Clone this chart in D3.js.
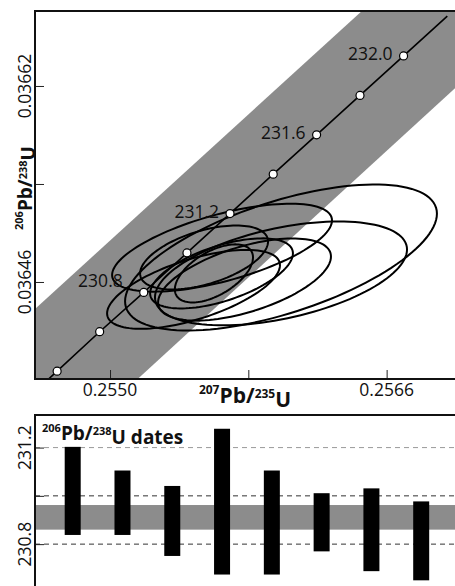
<!DOCTYPE html>
<html>
<head>
<meta charset="utf-8">
<script src="https://cdn.jsdelivr.net/npm/d3@7"></script>
<style>
  body { margin: 0; background: #fff; }
  svg { display: block; font-family: "Open Sans", sans-serif; }
</style>
</head>
<body>
<script>
// concordia marks (Ma) with their 207Pb/235U and 206Pb/238U ratios
var concAges = [230.4, 230.6, 230.8, 231.0, 231.2, 231.4, 231.6, 231.8, 232.0];
var concX = [0.254694, 0.254940, 0.255195, 0.255445, 0.255694, 0.255944, 0.256195, 0.256446, 0.256698];
var concY = [0.0363872, 0.0364194, 0.0364515, 0.0364837, 0.0365158, 0.0365480, 0.0365801, 0.0366123, 0.0366445];
var concLabels = [230.8, 231.2, 231.6, 232.0];
// ends of the concordia line (outside the frame)
var concEndX = [0.254447, 0.256951];
var concEndY = [0.036355, 0.036677];

// decay constant uncertainty band (corners)
var bandX = [0.253960, 0.256603, 0.257628, 0.254999];
var bandY = [0.036360, 0.036700, 0.036700, 0.036360];

// analysis ellipses: centre, half widths (95%), correlation
var ellX   = [0.255648, 0.255544, 0.255645, 0.255989, 0.255989, 0.255601, 0.255778, 0.255483];
var ellY   = [0.036488, 0.036480, 0.036467, 0.036480, 0.036467, 0.036467, 0.036462, 0.036454];
var ellSx  = [0.000636, 0.000370, 0.000413, 0.000902, 0.000729, 0.000226, 0.000500, 0.000500];
var ellSy  = [0.0000359, 0.0000261, 0.0000286, 0.0000596, 0.0000424, 0.0000237, 0.0000335, 0.0000322];
var ellRho = [0.62, 0.50, 0.57, 0.60, 0.46, 0.55, 0.56, 0.61];

var xTicks = [0.2550, 0.2558, 0.2566];
var xTickLabels = ["0.2550", "", "0.2566"];
var yTicks = [0.03646, 0.03654, 0.03662];
var yTickLabels = ["0.03646", "", "0.03662"];

// 206Pb/238U dates (2 sigma ranges)
var dateTop = [231.203, 231.105, 231.041, 231.278, 231.105, 231.011, 231.031, 230.977];
var dateBot = [230.838, 230.838, 230.751, 230.674, 230.674, 230.770, 230.688, 230.650];
var meanLo = 230.860;
var meanHi = 230.962;
var dateTicks = [231.2, 231.0, 230.8];
var dateTickLabels = ["231.2", "", "230.8"];

var width = 455;
var height = 586;

var svg = d3.select("body").append("svg")
    .attr("width", width)
    .attr("height", height);

// ---------- top panel: concordia ----------
var pLeft = 35, pTop = 11, pRight = 462, pBottom = 379;

var xScale = d3.scaleLinear()
    .domain([0.254566, 0.257036])
    .range([pLeft, pRight]);
var yScale = d3.scaleLinear()
    .domain([0.0363808, 0.0366812])
    .range([pBottom, pTop]);

svg.append("clipPath").attr("id", "clipTop")
    .append("rect")
    .attr("x", pLeft).attr("y", pTop)
    .attr("width", pRight - pLeft).attr("height", pBottom - pTop);

var plot = svg.append("g").attr("clip-path", "url(#clipTop)");

// band
plot.append("path")
    .datum(d3.range(bandX.length))
    .attr("d", d3.line()
        .x(function(i){ return xScale(bandX[i]); })
        .y(function(i){ return yScale(bandY[i]); })
        .curve(d3.curveLinearClosed))
    .attr("fill", "#8c8c8c");

// ellipses
var ellLine = d3.line()
    .curve(d3.curveLinearClosed);

plot.selectAll("path.ell")
    .data(d3.range(ellX.length))
    .enter()
    .append("path")
    .attr("class", "ell")
    .attr("d", function(i){
        var pts = d3.range(120).map(function(k){
            var t = k / 120 * 2 * Math.PI;
            var x = ellX[i] + ellSx[i] * Math.cos(t);
            var y = ellY[i] + ellSy[i] * (ellRho[i] * Math.cos(t) + Math.sqrt(1 - ellRho[i] * ellRho[i]) * Math.sin(t));
            return [xScale(x), yScale(y)];
        });
        return ellLine(pts);
    })
    .attr("fill", "none")
    .attr("stroke", "#000")
    .attr("stroke-width", 2);

// concordia line
var linePts = [[concEndX[0], concEndY[0]]];
concX.forEach(function(d, i){ linePts.push([concX[i], concY[i]]); });
linePts.push([concEndX[1], concEndY[1]]);

plot.append("path")
    .datum(linePts)
    .attr("d", d3.line()
        .x(function(d){ return xScale(d[0]); })
        .y(function(d){ return yScale(d[1]); }))
    .attr("fill", "none")
    .attr("stroke", "#000")
    .attr("stroke-width", 1.6);

plot.selectAll("circle")
    .data(concAges)
    .enter()
    .append("circle")
    .attr("cx", function(d, i){ return xScale(concX[i]); })
    .attr("cy", function(d, i){ return yScale(concY[i]); })
    .attr("r", 4)
    .attr("fill", "#fff")
    .attr("stroke", "#000")
    .attr("stroke-width", 1.2);

// the lowest label sits further left, clear of the ellipses
var labelNudge = { "230.8": [-21, -5] };

plot.selectAll("text.age")
    .data(concLabels)
    .enter()
    .append("text")
    .attr("class", "age")
    .attr("x", function(d){
        var n = labelNudge[d.toFixed(1)] || [-11, 4];
        return xScale(concX[concAges.indexOf(d)]) + n[0];
    })
    .attr("y", function(d){
        var n = labelNudge[d.toFixed(1)] || [-11, 4];
        return yScale(concY[concAges.indexOf(d)]) + n[1];
    })
    .attr("text-anchor", "end")
    .style("font-size", "17.5px")
    .attr("fill", "#111")
    .text(function(d){ return d.toFixed(1); });

// axes (inward ticks)
var xAxis = d3.axisTop(xScale)
    .tickValues(xTicks)
    .tickSize(9)
    .tickFormat("");
svg.append("g")
    .attr("transform", "translate(0," + pBottom + ")")
    .call(xAxis)
    .call(function(g){ g.select(".domain").remove(); })
    .selectAll("line").attr("stroke", "#222").attr("stroke-width", 1);

var yAxis = d3.axisRight(yScale)
    .tickValues(yTicks)
    .tickSize(9)
    .tickFormat("");
svg.append("g")
    .attr("transform", "translate(" + pLeft + ",0)")
    .call(yAxis)
    .call(function(g){ g.select(".domain").remove(); })
    .selectAll("line").attr("stroke", "#222").attr("stroke-width", 1);

svg.selectAll("text.xt")
    .data(xTicks)
    .enter()
    .append("text")
    .attr("class", "xt")
    .attr("x", function(d){ return xScale(d); })
    .attr("y", 396)
    .attr("text-anchor", "middle")
    .style("font-size", "17.5px")
    .attr("fill", "#111")
    .text(function(d, i){ return xTickLabels[i]; });

svg.selectAll("text.yt")
    .data(yTicks)
    .enter()
    .append("text")
    .attr("class", "yt")
    .attr("transform", function(d){ return "translate(31," + yScale(d) + ") rotate(-90)"; })
    .attr("text-anchor", "middle")
    .style("font-size", "17.5px")
    .attr("fill", "#111")
    .text(function(d, i){ return yTickLabels[i]; });

// frame
svg.append("path")
    .attr("d", "M" + pRight + "," + pTop + "H" + pLeft + "V" + pBottom + "H" + pRight)
    .attr("fill", "none")
    .attr("stroke", "#111")
    .attr("stroke-width", 2);

// axis titles
var xTitle = svg.append("text")
    .attr("x", 245).attr("y", 399)
    .attr("text-anchor", "middle")
    .style("font-weight", "bold")
    .style("font-size", "21px")
    .attr("fill", "#111");
xTitle.append("tspan").attr("dy", "-0.45em").style("font-size", "12px").text("207");
xTitle.append("tspan").attr("dy", "0.45em").text("Pb/");
xTitle.append("tspan").attr("dy", "-0.45em").style("font-size", "12px").text("235");
xTitle.append("tspan").attr("dy", "0.45em").text("U");

var yTitle = svg.append("text")
    .attr("transform", "translate(28,188) rotate(-90)")
    .attr("text-anchor", "middle")
    .style("font-weight", "bold")
    .style("font-size", "19px")
    .attr("fill", "#111");
yTitle.append("tspan").attr("dy", "-0.45em").style("font-size", "11px").text("206");
yTitle.append("tspan").attr("dy", "0.45em").text("Pb/");
yTitle.append("tspan").attr("dy", "-0.45em").style("font-size", "11px").text("238");
yTitle.append("tspan").attr("dy", "0.45em").text("U");

// ---------- bottom panel: dates ----------
var top2 = 415, bottom2 = 600;

var barScale = d3.scalePoint()
    .domain(d3.range(dateTop.length))
    .range([72.7, 421.2]);
var yScale2 = d3.scaleLinear()
    .domain([230.5685, 231.335])
    .range([bottom2, top2]);

svg.append("rect")
    .attr("x", pLeft).attr("y", yScale2(meanHi))
    .attr("width", pRight - pLeft)
    .attr("height", yScale2(meanLo) - yScale2(meanHi))
    .attr("fill", "#8c8c8c");

svg.selectAll("line.grid")
    .data(dateTicks)
    .enter()
    .append("line")
    .attr("class", "grid")
    .attr("x1", pLeft).attr("x2", pRight)
    .attr("y1", function(d){ return yScale2(d); })
    .attr("y2", function(d){ return yScale2(d); })
    .attr("stroke", function(d, i){ return i == 0 ? "#9a9a9a" : "#333"; })
    .attr("stroke-width", 1)
    .attr("stroke-dasharray", "5,4");

var yAxis2 = d3.axisRight(yScale2)
    .tickValues(dateTicks)
    .tickSize(9)
    .tickFormat("");
svg.append("g")
    .attr("transform", "translate(" + pLeft + ",0)")
    .call(yAxis2)
    .call(function(g){ g.select(".domain").remove(); })
    .selectAll("line").attr("stroke", "#222").attr("stroke-width", 1);

svg.selectAll("rect.bar")
    .data(dateTop)
    .enter()
    .append("rect")
    .attr("class", "bar")
    .attr("x", function(d, i){ return barScale(i) - 8; })
    .attr("width", 16)
    .attr("y", function(d){ return yScale2(d); })
    .attr("height", function(d, i){ return yScale2(dateBot[i]) - yScale2(d); })
    .attr("fill", "#000");

svg.selectAll("text.yt2")
    .data(dateTicks)
    .enter()
    .append("text")
    .attr("class", "yt2")
    .attr("transform", function(d){ return "translate(31," + yScale2(d) + ") rotate(-90)"; })
    .attr("text-anchor", "middle")
    .style("font-size", "17.5px")
    .attr("fill", "#111")
    .text(function(d, i){ return dateTickLabels[i]; });

svg.append("path")
    .attr("d", "M" + pRight + "," + top2 + "H" + pLeft + "V" + bottom2)
    .attr("fill", "none")
    .attr("stroke", "#111")
    .attr("stroke-width", 2);

var title2 = svg.append("text")
    .attr("x", 42).attr("y", 436.5)
    .style("font-weight", "bold")
    .style("font-size", "19px")
    .attr("fill", "#111");
title2.append("tspan").attr("dy", "-0.45em").style("font-size", "11px").text("206");
title2.append("tspan").attr("dy", "0.45em").text("Pb/");
title2.append("tspan").attr("dy", "-0.45em").style("font-size", "11px").text("238");
title2.append("tspan").attr("dy", "0.45em").text("U dates");
</script>
</body>
</html>
